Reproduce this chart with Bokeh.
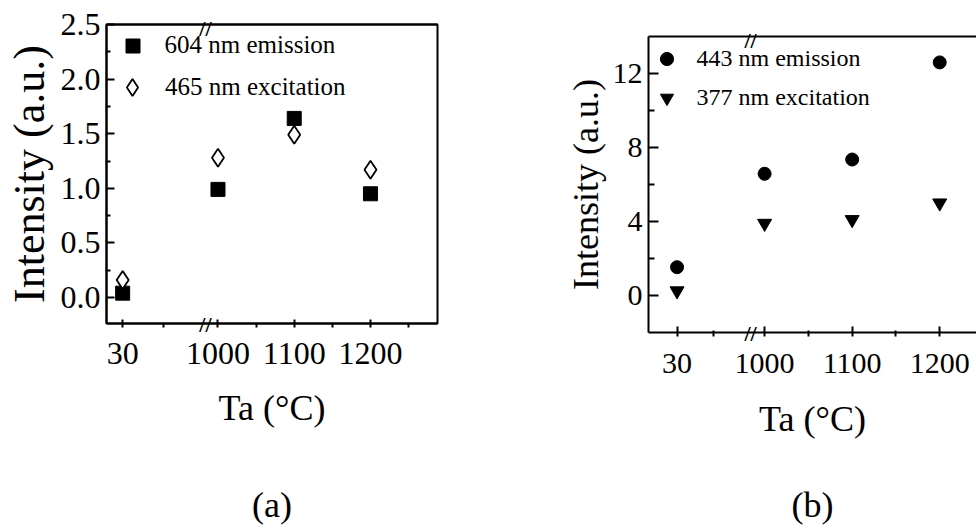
from bokeh.plotting import figure
from bokeh.models import (FixedTicker, NumeralTickFormatter, Legend, LegendItem,
                          LinearAxis, Range1d)
from bokeh.layouts import row
from bokeh.embed import file_html
from bokeh.resources import INLINE

# ---------------- data ----------------
temps = [30, 1000, 1100, 1200]
em604 = [0.04, 0.99, 1.64, 0.95]      # (a) 604 nm emission
ex465 = [0.16, 1.28, 1.49, 1.17]      # (a) 465 nm excitation
em443 = [1.53, 6.58, 7.35, 12.6]      # (b) 443 nm emission
ex377 = [0.25, 3.90, 4.10, 5.00]      # (b) 377 nm excitation
x_tick_labels = ["30", "1000", "1100", "1200"]
legend_a = ["604 nm emission", "465 nm excitation"]
legend_b = ["443 nm emission", "377 nm excitation"]
y_title = "Intensity (a.u.)"
x_title = "Ta (°C)"
panel_names = ["(a)", "(b)"]
break_mark = "//"

FONT = "Liberation Serif"
H = 531
BRK = 12          # approx. pixel height taken by the bottom break-mark axis
BRK_TOP = 16      # standoff that centres the top break mark on the border


def broken_x(t, low_pos):
    """Broken temperature axis: 30 °C sits left of the break,
    1000-1200 °C are spaced at one unit per 100 °C."""
    return low_pos if t < 1000 else 1 + (t - 1000) / 100.0


def break_axis(xb, standoff):
    """Axis used only to draw the '//' break mark across the frame border."""
    return LinearAxis(ticker=FixedTicker(ticks=[xb]),
                      major_label_overrides={xb: break_mark},
                      major_tick_in=0, major_tick_out=0,
                      minor_tick_in=0, minor_tick_out=0,
                      axis_line_width=2, axis_line_color="black",
                      major_label_standoff=standoff,
                      major_label_text_font=FONT, major_label_text_font_size="22px",
                      major_label_text_font_style="bold", major_label_text_color="black")


def make_panel(width, x_rng, y_rng, borders, low_pos, x_minor, y_ticks, y_minor,
               y_fmt, sizes, xb, name, outline):
    p = figure(width=width, height=H, x_range=Range1d(*x_rng), y_range=Range1d(*y_rng),
               output_backend="svg", toolbar_location=None, title=None,
               x_axis_location=None, y_axis_location=None,
               min_border_left=borders[0], min_border_right=borders[1],
               min_border_top=borders[2], min_border_bottom=borders[3],
               background_fill_color="white", border_fill_color="white")
    if "frame_align" in p.properties():
        p.frame_align = False
    p.grid.visible = False
    if outline:
        p.outline_line_color = "black"
        p.outline_line_width = 2
    else:
        p.outline_line_color = None

    xs = [broken_x(t, low_pos) for t in temps]
    tin, min_in = sizes["tin"], sizes["min_in"]

    # main x axis: numbers + ticks (ticks reach back up to the frame border)
    xa = LinearAxis(ticker=FixedTicker(ticks=xs, minor_ticks=x_minor),
                    major_label_overrides={x: lab for x, lab in zip(xs, x_tick_labels)},
                    axis_line_color=None,
                    major_tick_line_width=2, minor_tick_line_width=2,
                    major_tick_in=tin + BRK, major_tick_out=-BRK,
                    minor_tick_in=min_in + BRK, minor_tick_out=-BRK,
                    major_label_text_font=FONT, major_label_text_font_size=sizes["xtick"],
                    major_label_text_color="black", major_label_standoff=sizes["xstand"],
                    axis_label=x_title, axis_label_text_font=FONT,
                    axis_label_text_font_style="normal", axis_label_text_color="black",
                    axis_label_text_font_size=sizes["xtitle"],
                    axis_label_standoff=sizes["xtitle_stand"])
    # panel name "(a)" / "(b)" below the axis title
    na = LinearAxis(ticker=FixedTicker(ticks=[]), axis_line_color=None,
                    major_tick_in=0, major_tick_out=0, minor_tick_in=0, minor_tick_out=0,
                    major_label_standoff=0,
                    axis_label=name, axis_label_text_font=FONT,
                    axis_label_text_font_style="normal", axis_label_text_color="black",
                    axis_label_text_font_size="36px",
                    axis_label_standoff=sizes["name_stand"])
    p.below = [break_axis(xb, -BRK), xa, na]
    p.above = [break_axis(xb, -BRK_TOP)]

    ya = LinearAxis(ticker=FixedTicker(ticks=y_ticks, minor_ticks=y_minor),
                    axis_line_width=2, axis_line_color="black",
                    major_tick_line_width=2, minor_tick_line_width=2,
                    major_tick_in=tin, major_tick_out=0,
                    minor_tick_in=min_in, minor_tick_out=0,
                    major_label_text_font=FONT, major_label_text_font_size=sizes["ytick"],
                    major_label_text_color="black", major_label_standoff=6,
                    axis_label=y_title, axis_label_text_font=FONT,
                    axis_label_text_font_style="normal", axis_label_text_color="black",
                    axis_label_text_font_size=sizes["ytitle"],
                    axis_label_standoff=sizes["ytitle_stand"])
    if y_fmt:
        ya.formatter = NumeralTickFormatter(format=y_fmt)
    p.left = [ya]
    return p, xs


leg_kw = dict(padding=0, margin=0, border_line_color=None, background_fill_alpha=0,
              label_text_font=FONT, label_text_color="black")

# ---------------- panel (a) ----------------
pa, xa_pos = make_panel(
    540, (-0.462, 3.879), (-0.238, 2.5), (106, 103, 24, 208), -0.25,
    [0.28, 1.5, 2.5, 3.5], [0, 0.5, 1.0, 1.5, 2.0, 2.5],
    [0.25, 0.75, 1.25, 1.75, 2.25], "0.0",
    dict(xtick="32px", ytick="32px", tin=8, min_in=4, xstand=15,
         xtitle="36px", xtitle_stand=21, ytitle="44px", ytitle_stand=4, name_stand=54),
    0.836, panel_names[0], outline=True)

ra1 = pa.scatter(xa_pos, em604, marker="square", size=14,
                 fill_color="black", line_color="black")
ra2 = pa.scatter(xa_pos, ex465, marker="diamond", size=18,
                 fill_color="white", line_color="black", line_width=1.8)

pa.add_layout(Legend(items=[LegendItem(label=legend_a[0], renderers=[ra1])],
                     location=(8.5, 260.5), glyph_width=35, glyph_height=35,
                     label_standoff=15, spacing=0, label_text_font_size="25px", **leg_kw))
pa.add_layout(Legend(items=[LegendItem(label=legend_a[1], renderers=[ra2])],
                     location=(5, 215), glyph_width=42, glyph_height=42,
                     label_standoff=12, spacing=0, label_text_font_size="25px", **leg_kw))

# ---------------- panel (b) ----------------
pb, xb_pos = make_panel(
    436, (-0.326, 3.42), (-2, 14), (108, 0, 36, 199), 0.0,
    [0.42, 1.5, 2.5, 3.5], [0, 4, 8, 12], [2, 6, 10], None,
    dict(xtick="30px", ytick="30px", tin=10, min_in=6, xstand=17,
         xtitle="36px", xtitle_stand=23, ytitle="36px", ytitle_stand=4, name_stand=43),
    0.84, panel_names[1], outline=False)

rb1 = pb.scatter(xb_pos, em443, marker="circle", size=13,
                 fill_color="black", line_color="black")
rb2 = pb.scatter(xb_pos, ex377, marker="inverted_triangle", size=14,
                 fill_color="black", line_color="black")

pb.add_layout(Legend(items=[LegendItem(label=legend_b[0], renderers=[rb1]),
                            LegendItem(label=legend_b[1], renderers=[rb2])],
                     location=(1.5, 218.5), glyph_width=33, glyph_height=33,
                     label_standoff=14, spacing=6, label_text_font_size="24px", **leg_kw))

layout = row(pa, pb, spacing=0)
open("out.html", "w").write(file_html(layout, INLINE))
